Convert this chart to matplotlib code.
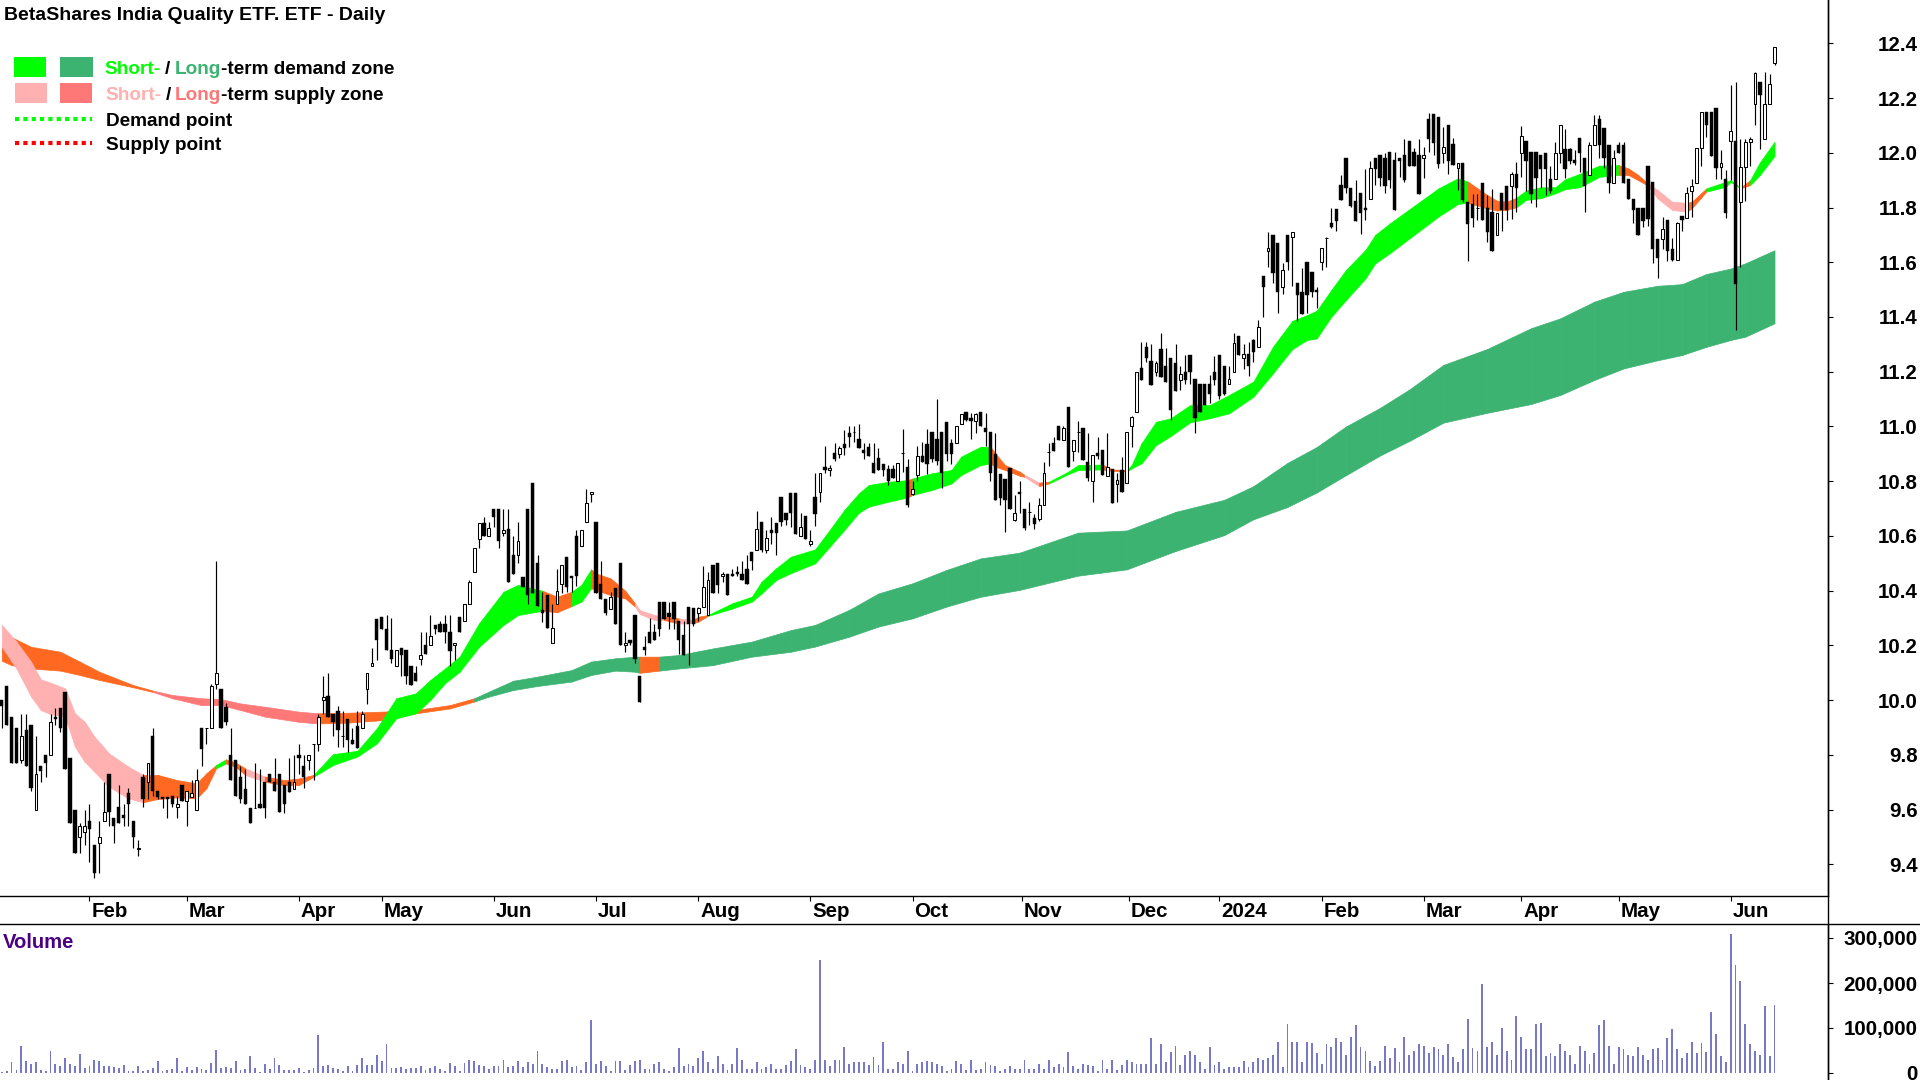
import numpy as np
import matplotlib
matplotlib.use("Agg")
import matplotlib.pyplot as plt
from matplotlib.lines import Line2D
from matplotlib.patches import Rectangle

plt.rcParams['font.family'] = ['Liberation Sans']

title = "BetaShares India Quality ETF. ETF - Daily"

# daily candles
opens = [
    10.00,10.05,9.94,9.90,9.78,9.89,9.91,9.60,9.76,9.80,
    9.80,9.94,9.97,10.03,9.79,9.60,9.50,9.52,9.56,9.47,
    9.48,9.56,9.73,9.57,9.61,9.58,9.66,9.56,9.455,9.72,
    9.70,9.87,9.67,9.645,9.645,9.65,9.61,9.69,9.63,9.645,
    9.60,9.90,9.90,9.90,10.06,10.04,9.976,9.80,9.78,9.72,
    9.675,9.605,9.605,9.62,9.70,9.73,9.70,9.73,9.69,9.70,
    9.675,9.80,9.76,9.78,9.84,9.84,10.00,10.015,9.95,9.96,
    9.87,9.93,9.855,9.905,9.90,10.04,10.125,10.295,10.305,10.26,
    10.185,10.125,10.19,10.185,10.125,10.10,10.15,10.20,10.20,10.275,
    10.28,10.28,10.25,10.20,10.305,10.29,10.35,10.47,10.59,10.646,
    10.60,10.70,10.70,10.61,10.625,10.53,10.53,10.45,10.70,10.795,
    10.50,10.33,10.384,10.21,10.35,10.423,10.524,10.455,10.60,10.563,
    10.65,10.755,10.65,10.424,10.37,10.332,10.41,10.50,10.20,10.22,
    10.31,10.09,10.195,10.25,10.25,10.36,10.36,10.32,10.36,10.29,
    10.238,10.34,10.335,10.32,10.34,10.31,10.495,10.50,10.454,10.46,
    10.46,10.47,10.46,10.48,10.54,10.55,10.65,10.55,10.62,10.646,
    10.744,10.685,10.756,10.756,10.60,10.673,10.57,10.744,10.76,10.853,
    10.84,10.904,10.90,10.935,10.975,10.98,10.953,10.914,10.924,10.865,
    10.884,10.863,10.843,10.843,10.80,10.904,10.853,10.753,10.823,10.893,
    10.935,10.98,10.953,10.98,11.015,10.94,10.94,11.01,11.054,11.03,
    11.02,11.054,10.993,10.98,10.90,10.825,10.807,10.847,10.66,10.76,
    10.70,10.686,10.664,10.662,10.713,10.905,10.94,11.0,10.95,11.07,
    10.91,10.98,10.993,10.87,10.80,10.904,10.914,10.82,10.843,10.79,
    10.84,10.795,11.0,11.054,11.212,11.29,11.24,11.20,11.282,11.22,
    11.252,11.233,11.17,11.20,11.26,11.172,11.154,11.154,11.154,11.20,
    11.26,11.22,11.154,11.20,11.33,11.25,11.263,11.316,11.29,11.55,
    11.642,11.70,11.672,11.508,11.70,11.691,11.523,11.493,11.602,11.563,
    11.50,11.602,11.69,11.742,11.795,11.882,11.98,11.87,11.824,11.852,
    11.80,11.83,11.98,11.991,11.98,12.002,11.974,11.98,11.992,12.043,
    12.004,11.992,11.98,12.122,12.14,12.13,12.0,12.10,12.032,11.943,
    11.962,11.82,11.812,11.80,11.891,11.80,11.785,11.70,11.852,11.88,
    11.88,11.923,12.0,12.043,12.002,12.002,11.992,12.0,11.903,11.903,
    12.0,12.013,12.014,11.974,12.053,11.98,11.92,12.03,12.122,12.09,
    12.03,11.89,12.03,12.03,11.904,11.83,11.80,11.80,11.951,11.892,
    11.685,11.685,11.754,11.65,11.61,11.769,11.76,11.861,11.89,12.018,
    12.15,12.15,12.162,11.949,11.904,12.043,12.043,11.821,11.949,12.04,
    12.18,12.26,12.052,12.18,12.329]
highs = [
    10.00,10.05,9.94,9.90,9.95,9.95,9.91,9.87,9.76,9.80,
    9.95,9.97,9.97,10.03,9.79,9.60,9.55,9.60,9.62,9.47,
    9.56,9.70,9.73,9.57,9.69,9.62,9.68,9.56,9.49,9.73,
    9.77,9.90,9.67,9.645,9.645,9.65,9.65,9.69,9.67,9.71,
    9.75,9.90,9.90,10.06,10.51,10.04,9.99,9.90,9.78,9.76,
    9.75,9.605,9.77,9.75,9.70,9.73,9.79,9.73,9.69,9.79,
    9.80,9.84,9.80,9.80,9.84,9.95,10.09,10.10,9.95,9.98,
    9.96,9.93,9.90,9.96,9.96,10.10,10.19,10.295,10.305,10.31,
    10.30,10.185,10.19,10.185,10.125,10.125,10.25,10.25,10.31,10.275,
    10.29,10.31,10.31,10.21,10.305,10.35,10.44,10.555,10.646,10.67,
    10.65,10.70,10.70,10.70,10.70,10.60,10.65,10.45,10.70,10.795,
    10.53,10.396,10.384,10.35,10.48,10.494,10.524,10.455,10.62,10.62,
    10.77,10.76,10.65,10.51,10.37,10.396,10.41,10.50,10.25,10.22,
    10.31,10.09,10.235,10.30,10.28,10.36,10.36,10.36,10.36,10.29,
    10.29,10.34,10.335,10.34,10.49,10.47,10.495,10.50,10.47,10.46,
    10.48,10.49,10.51,10.53,10.54,10.69,10.65,10.62,10.67,10.646,
    10.744,10.685,10.756,10.756,10.685,10.673,10.62,10.83,10.83,10.93,
    10.86,10.94,10.93,10.987,11.0,11.0,11.01,10.94,10.938,10.938,
    10.92,10.863,10.86,10.86,10.865,10.99,10.88,10.80,10.93,10.945,
    10.99,10.98,11.10,10.98,11.015,10.953,11.0,11.044,11.054,11.05,
    11.05,11.054,11.05,10.98,10.975,10.825,10.807,10.847,10.75,10.80,
    10.70,10.725,10.682,10.74,10.87,10.94,10.96,11.0,11.0,11.07,
    10.95,11.02,10.993,10.978,10.896,10.96,10.914,10.978,10.843,10.83,
    10.89,10.98,11.04,11.20,11.31,11.31,11.30,11.24,11.34,11.288,
    11.252,11.30,11.22,11.26,11.26,11.172,11.154,11.154,11.188,11.258,
    11.26,11.22,11.22,11.34,11.33,11.30,11.31,11.32,11.39,11.55,
    11.71,11.70,11.672,11.596,11.70,11.712,11.523,11.578,11.602,11.563,
    11.508,11.651,11.691,11.797,11.795,11.919,11.98,11.87,11.90,11.852,
    11.94,11.97,11.98,11.991,11.998,12.002,12.004,11.98,12.05,12.043,
    12.016,12.05,12.02,12.147,12.14,12.13,12.096,12.10,12.053,11.962,
    11.962,11.82,11.85,11.85,11.891,11.846,11.867,11.781,11.852,11.88,
    11.93,11.968,12.098,12.043,12.002,12.002,11.992,12.0,11.95,12.04,
    12.10,12.086,12.016,12.01,12.053,11.98,12.04,12.138,12.138,12.09,
    12.03,12.01,12.04,12.04,11.904,11.83,11.80,11.80,11.951,11.892,
    11.685,11.766,11.754,11.687,11.748,11.769,11.876,11.906,12.018,12.15,
    12.15,12.15,12.162,12.01,11.937,12.247,12.26,12.049,12.049,12.058,
    12.296,12.26,12.296,12.288,12.387]
lows = [
    9.90,9.91,9.77,9.77,9.77,9.76,9.67,9.60,9.70,9.72,
    9.80,9.91,9.885,9.75,9.55,9.44,9.44,9.47,9.41,9.35,
    9.37,9.56,9.54,9.48,9.55,9.54,9.54,9.46,9.43,9.61,
    9.64,9.65,9.64,9.605,9.57,9.61,9.57,9.63,9.54,9.645,
    9.60,9.76,9.84,9.90,10.04,9.90,9.91,9.71,9.65,9.625,
    9.62,9.55,9.605,9.605,9.57,9.70,9.67,9.59,9.586,9.665,
    9.675,9.73,9.68,9.745,9.71,9.815,9.95,9.94,9.87,9.83,
    9.83,9.81,9.84,9.825,9.90,9.985,10.125,10.147,10.26,10.185,
    10.135,10.125,10.09,10.06,10.055,10.07,10.13,10.17,10.20,10.24,
    10.25,10.21,10.125,10.147,10.25,10.29,10.35,10.47,10.555,10.60,
    10.60,10.634,10.555,10.60,10.43,10.46,10.50,10.415,10.35,10.39,
    10.344,10.284,10.265,10.21,10.35,10.39,10.396,10.396,10.417,10.563,
    10.65,10.725,10.39,10.37,10.31,10.332,10.28,10.20,10.177,10.20,
    10.135,9.995,10.165,10.21,10.22,10.235,10.295,10.26,10.26,10.17,
    10.165,10.13,10.27,10.29,10.34,10.31,10.39,10.39,10.43,10.385,
    10.455,10.455,10.44,10.425,10.475,10.55,10.54,10.536,10.57,10.53,
    10.636,10.64,10.634,10.607,10.60,10.59,10.565,10.636,10.725,10.83,
    10.82,10.875,10.886,10.896,10.924,10.945,10.92,10.88,10.892,10.83,
    10.84,10.82,10.786,10.81,10.80,10.835,10.705,10.75,10.80,10.87,
    10.826,10.87,10.86,10.776,10.875,10.863,10.94,11.01,11.02,10.953,
    10.975,11.003,10.93,10.80,10.73,10.713,10.616,10.70,10.656,10.685,
    10.62,10.64,10.624,10.656,10.713,10.855,10.91,10.95,10.95,10.853,
    10.875,10.908,10.877,10.80,10.725,10.88,10.823,10.82,10.72,10.725,
    10.76,10.795,10.926,11.054,11.17,11.237,11.15,11.184,11.18,11.164,
    11.023,11.13,11.133,11.155,11.155,10.975,11.054,11.078,11.085,11.15,
    11.10,11.115,11.154,11.20,11.26,11.21,11.184,11.237,11.29,11.40,
    11.584,11.525,11.416,11.484,11.572,11.513,11.387,11.41,11.413,11.474,
    11.432,11.572,11.584,11.724,11.715,11.828,11.854,11.803,11.752,11.703,
    11.755,11.83,11.882,11.88,11.852,11.87,11.791,11.913,11.895,11.95,
    11.95,11.85,11.907,12.004,11.992,11.946,11.962,11.923,11.956,11.864,
    11.82,11.606,11.73,11.754,11.754,11.675,11.642,11.70,11.716,11.755,
    11.757,11.785,11.913,11.862,11.815,11.803,11.87,11.846,11.854,11.903,
    11.962,11.907,11.96,11.955,11.93,11.785,11.92,12.03,11.98,11.943,
    11.854,11.89,11.998,11.89,11.83,11.744,11.70,11.73,11.732,11.596,
    11.543,11.65,11.605,11.605,11.61,11.715,11.76,11.766,11.89,11.953,
    12.059,11.99,11.906,11.906,11.76,11.90,11.352,11.584,11.823,11.953,
    12.10,12.014,12.052,12.18,12.32]
closes = [
    9.98,9.91,9.77,9.77,9.87,9.76,9.68,9.73,9.74,9.77,
    9.92,9.93,9.90,9.75,9.55,9.44,9.54,9.54,9.53,9.37,
    9.50,9.59,9.59,9.54,9.55,9.57,9.62,9.50,9.46,9.64,
    9.77,9.67,9.645,9.64,9.64,9.62,9.62,9.63,9.67,9.66,
    9.71,9.82,9.90,10.05,10.10,9.90,9.92,9.71,9.65,9.64,
    9.62,9.55,9.605,9.605,9.605,9.70,9.67,9.59,9.62,9.665,
    9.70,9.79,9.72,9.80,9.84,9.94,10.01,9.94,9.92,9.89,
    9.87,9.855,9.84,9.825,9.95,10.10,10.135,10.22,10.26,10.185,
    10.15,10.185,10.165,10.09,10.055,10.07,10.165,10.17,10.235,10.26,
    10.25,10.25,10.18,10.21,10.25,10.35,10.43,10.555,10.646,10.60,
    10.63,10.67,10.58,10.62,10.43,10.46,10.583,10.415,10.385,10.39,
    10.344,10.32,10.265,10.265,10.40,10.494,10.412,10.445,10.454,10.62,
    10.72,10.76,10.39,10.37,10.32,10.378,10.28,10.20,10.21,10.21,
    10.15,9.995,10.185,10.21,10.22,10.26,10.295,10.305,10.295,10.22,
    10.165,10.28,10.28,10.335,10.415,10.44,10.39,10.42,10.46,10.385,
    10.455,10.46,10.44,10.425,10.51,10.625,10.55,10.594,10.61,10.61,
    10.65,10.66,10.685,10.607,10.634,10.59,10.58,10.68,10.83,10.84,
    10.85,10.88,10.922,10.92,10.96,10.98,10.92,10.904,10.892,10.83,
    10.84,10.84,10.80,10.81,10.865,10.904,10.713,10.77,10.893,10.87,
    10.863,10.88,10.875,10.83,10.90,10.90,11.0,11.044,11.024,11.02,
    11.044,11.003,10.98,10.83,10.73,10.74,10.73,10.70,10.685,10.755,
    10.63,10.686,10.643,10.713,10.83,10.905,10.91,10.95,10.993,10.853,
    10.95,10.98,10.877,10.81,10.896,10.892,10.823,10.853,10.72,10.804,
    10.76,10.98,11.033,11.20,11.17,11.25,11.15,11.233,11.18,11.164,
    11.06,11.13,11.19,11.17,11.20,11.03,11.054,11.078,11.12,11.17,
    11.11,11.12,11.172,11.304,11.26,11.263,11.22,11.273,11.362,11.51,
    11.651,11.562,11.493,11.572,11.60,11.712,11.48,11.41,11.48,11.49,
    11.493,11.651,11.69,11.728,11.751,11.828,11.87,11.807,11.752,11.78,
    11.79,11.943,11.941,11.909,11.88,11.90,11.791,11.971,11.90,11.95,
    11.95,11.85,11.992,12.05,12.037,11.96,12.02,11.97,11.956,11.962,
    11.828,11.74,11.76,11.80,11.754,11.712,11.642,11.781,11.791,11.791,
    11.923,11.87,12.061,11.971,11.85,11.907,11.941,11.941,11.862,12.0,
    12.10,11.941,11.971,11.962,12.0,11.88,12.03,12.10,12.03,11.98,
    11.89,11.98,11.998,11.89,11.83,11.79,11.70,11.752,11.758,11.65,
    11.617,11.72,11.642,11.608,11.742,11.754,11.852,11.88,12.018,12.15,
    12.10,11.99,11.943,11.961,11.78,12.08,11.52,11.949,12.04,12.052,
    12.29,12.21,12.18,12.25,12.387]

# volume in thousands of units
volume_k = [
    2,4,24,6,61,26,21,24,7,4,48,20,16,33,20,16,42,11,16,28,26,15,15,13,11,17,4,4,15,4,7,11,26,4,7,9,33,4,13,7,13,10,7,22,52,
    11,13,11,26,7,9,37,11,2,20,9,33,18,7,6,6,11,2,6,11,85,15,18,11,9,4,16,4,18,33,18,18,41,26,65,11,11,13,9,11,11,16,7,11,15,
    9,4,22,15,4,22,28,26,18,16,9,16,16,28,13,16,26,
    13,24,21,50,21,13,8,8,26,30,
    13,15,6,24,117,21,26,15,4,26,
    26,6,17,26,28,10,10,19,24,10,
    4,13,55,15,19,15,33,50,24,10,
    37,21,6,21,55,30,8,10,24,10,
    13,19,8,10,17,26,53,17,13,8,
    28,252,30,15,28,28,57,21,24,24,
    24,17,35,17,70,10,10,24,19,50,
    4,21,24,26,24,19,15,4,10,26,
    19,6,28,6,10,24,17,15,4,10,
    15,10,10,30,10,10,19,10,30,13,
    19,13,46,15,8,19,17,15,4,28,
    10,28,6,17,28,24,19,21,21,77,
    19,64,24,46,61,17,39,48,41,24,
    8,57,17,24,8,13,13,13,26,13,
    24,33,28,33,41,68,13,108,70,68,
    24,68,66,44,19,64,57,77,68,39,
    79,106,57,48,26,15,26,59,33,55,
    24,81,41,50,64,59,44,57,53,
    41,64,36,24,53,119,55,50,197,57,
    68,41,101,48,30,126,81,53,53,108,
    112,37,44,37,64,48,41,21,61,48,
    21,44,106,117,61,21,57,53,41,37,
    57,41,28,53,55,28,77,97,53,33,
    44,68,44,66,46,135,86,37,24,308,
    241,204,108,64,50,39,150,37,152]

# short term zone: bar number, edges, and state until the next entry
# d = demand, s = supply, m = changing over
short_bar = [0,3,6,8,10,13,15,17,19,22,26,29,32,36,40,42,44,46,48,50,54,58,61,64,68,73,77,81,85,88,91,94,98,103,106,111,114,117,119,121,122,125,128,130,131,134,136,139,142,143,145,150,154,156,159,162,167,170,173,176,178,182,186,187,191,195,197,201,203,204,206,209,210,213,215,219,221,226,228,231,232,234,237,240,244,248,252,257,261,265,268,270,273,276,280,282,285,290,295,299,301,305,307,309,311,313,316,319,321,324,328,332,334,336,338,340,343,346,347,350,354,355,357,359,361,364]
short_top = [10.275,10.214,10.141,10.076,10.064,10.043,9.952,9.921,9.867,9.806,9.757,9.727,9.727,9.708,9.696,9.733,9.763,9.784,9.772,9.751,9.721,9.708,9.714,9.727,9.803,9.815,9.897,10.007,10.025,10.074,10.116,10.159,10.281,10.396,10.421,10.40,10.378,10.396,10.421,10.478,10.463,10.445,10.40,10.354,10.329,10.311,10.305,10.299,10.293,10.305,10.311,10.354,10.378,10.433,10.482,10.524,10.551,10.622,10.695,10.756,10.786,10.798,10.804,10.81,10.829,10.841,10.89,10.926,10.926,10.902,10.859,10.835,10.823,10.795,10.798,10.835,10.859,10.861,10.843,10.841,10.859,10.938,11.017,11.03,11.078,11.078,11.115,11.164,11.291,11.386,11.407,11.423,11.499,11.572,11.645,11.70,11.742,11.806,11.87,11.907,11.895,11.846,11.825,11.821,11.836,11.862,11.874,11.874,11.903,11.923,11.953,11.955,11.943,11.919,11.888,11.864,11.821,11.817,11.821,11.87,11.894,11.90,11.873,11.90,11.965,12.04]
short_bot = [10.195,10.116,10.013,9.964,9.949,9.94,9.83,9.775,9.739,9.684,9.641,9.627,9.639,9.645,9.641,9.678,9.751,9.769,9.757,9.727,9.702,9.69,9.69,9.72,9.763,9.794,9.842,9.934,9.952,10.001,10.062,10.104,10.195,10.275,10.311,10.327,10.321,10.344,10.36,10.409,10.402,10.384,10.372,10.342,10.315,10.293,10.293,10.28,10.281,10.287,10.308,10.335,10.36,10.39,10.439,10.464,10.50,10.561,10.622,10.685,10.707,10.725,10.741,10.75,10.768,10.792,10.823,10.859,10.865,10.853,10.841,10.82,10.816,10.782,10.792,10.826,10.841,10.843,10.838,10.835,10.847,10.865,10.932,10.965,11.015,11.03,11.048,11.109,11.194,11.283,11.316,11.322,11.401,11.462,11.541,11.596,11.633,11.70,11.767,11.813,11.818,11.797,11.789,11.791,11.801,11.828,11.834,11.852,11.867,11.874,11.912,11.919,11.919,11.90,11.88,11.833,11.791,11.785,11.797,11.858,11.876,11.894,11.87,11.882,11.919,11.988]
short_state = ('s'*11 + 'm'*5 + 'd' + 'm'*2 + 's' + 'm'*3 + 'd'*12 + 'm'*2 + 'd'*2 + 'm'*4 + 's'*3 + 'm' + 's'
               + 'm'*2 + 'd'*12 + 'm' + 'd'*5 + 'm'*4 + 's' + 'm' + 'd'*3 + 'm'*2 + 'd'*21 + 'm'*4 + 'd'*7
               + 'm'*3 + 's'*3 + 'm'*2 + 'd'*3 + 'm' + 'd'*3)

long_bar = [0,2,6,12,16,20,27,31,35,41,45,49,54,61,65,71,78,85,92,97,100,105,110,117,121,126,130,131,135,139,146,154,162,167,174,180,187,194,201,209,221,231,241,251,257,264,270,276,283,289,296,305,314,320,327,333,340,345,350,355,358,364]
long_top = [10.195,10.23,10.195,10.177,10.141,10.104,10.055,10.035,10.019,10.007,10.004,9.988,9.976,9.958,9.952,9.954,9.958,9.964,9.982,10.007,10.031,10.071,10.086,10.11,10.141,10.153,10.159,10.159,10.159,10.165,10.189,10.214,10.256,10.275,10.33,10.39,10.427,10.476,10.518,10.539,10.612,10.62,10.688,10.732,10.782,10.867,10.925,11.0,11.068,11.135,11.225,11.283,11.359,11.395,11.456,11.492,11.514,11.52,11.557,11.577,11.596,11.644]
long_bot = [10.144,10.128,10.116,10.108,10.092,10.074,10.047,10.03,10.007,9.982,9.982,9.964,9.94,9.921,9.915,9.918,9.927,9.952,9.97,9.995,10.013,10.037,10.052,10.068,10.092,10.108,10.104,10.10,10.108,10.116,10.128,10.159,10.177,10.196,10.232,10.269,10.299,10.342,10.378,10.403,10.455,10.478,10.545,10.603,10.661,10.706,10.759,10.822,10.894,10.947,11.014,11.05,11.082,11.115,11.17,11.212,11.242,11.261,11.291,11.316,11.328,11.377]
long_state = 'm'*7 + 's'*7 + 'm'*5 + 'd'*8 + 'm' + 'd'*34

month_bar = [18,38,61,78,101,122,143,166,187,209.4,231.4,250,271,292,312,332,355]
month_label = ["Feb","Mar","Apr","May","Jun","Jul","Aug","Sep","Oct","Nov","Dec","2024","Feb","Mar","Apr","May","Jun"]
price_ticks = [9.4,9.6,9.8,10.0,10.2,10.4,10.6,10.8,11.0,11.2,11.4,11.6,11.8,12.0,12.2,12.4]
volume_ticks = [0,100000,200000,300000]

short_colors = {'d': '#00FF00', 's': '#FFB0B0', 'm': '#FF6820'}
long_colors = {'d': '#3CB371', 's': '#FF7878', 'm': '#FF6820'}
axis_size = 14.8


def fx(px):
    return px / 1920


def fy(px):
    return 1 - px / 1080


def draw_zone(ax, bars, top, bot, state, colors):
    for i in range(len(bars) - 1):
        c = colors[state[i]]
        ax.fill_between(bars[i:i+2], top[i:i+2], bot[i:i+2], color=c, lw=0.5, zorder=2)


fig = plt.figure(figsize=(19.2, 10.8), dpi=100)
ax = fig.add_axes([0, fy(896), fx(1828), 896 / 1080])
vol = fig.add_axes([0, 0, fx(1828), 156 / 1080])

xlim = (-1.83 / 4.87, (1828 - 1.83) / 4.87)
x = np.arange(len(closes))
o, h, l, c = map(np.array, (opens, highs, lows, closes))

draw_zone(ax, long_bar, long_top, long_bot, long_state, long_colors)
draw_zone(ax, short_bar, short_top, short_bot, short_state, short_colors)

ax.vlines(x, l, h, color='black', lw=0.85, zorder=3)
up = c >= o
ax.bar(x[up], (c - o)[up], bottom=o[up], width=0.58, facecolor='white', edgecolor='black', lw=0.75, zorder=4)
ax.bar(x[~up], (o - c)[~up], bottom=c[~up], width=0.68, facecolor='black', edgecolor='black', lw=0.3, zorder=4)

ax.set_xlim(xlim)
ax.set_ylim(12.4 - (896 - 43.3) / 273.7, 12.4 + 43.3 / 273.7)
ax.spines['top'].set_visible(False)
ax.spines['left'].set_visible(False)
ax.spines['right'].set_linewidth(1.0)
ax.spines['bottom'].set_linewidth(1.0)
ax.yaxis.tick_right()
ax.set_yticks(price_ticks)
ax.set_yticklabels(["%.1f" % t for t in price_ticks], fontweight='bold', fontsize=axis_size, ha='right')
ax.tick_params(axis='y', length=3.6, width=0.8, pad=61)
ax.set_xticks(month_bar)
ax.set_xticklabels([])
ax.tick_params(axis='x', length=3.6, width=0.8)
for b, name in zip(month_bar, month_label):
    ax.annotate(name, xy=(b, 0), xycoords=('data', 'axes fraction'), xytext=(1.5, -11),
                textcoords='offset points', ha='left', va='center',
                fontweight='bold', fontsize=axis_size, annotation_clip=False)

vol.bar(x, np.array(volume_k) * 1000, width=0.38, color='#7878C8')
vol.set_xlim(xlim)
vol.set_ylim(-7 * 100000 / 45, (1073 - 924) * 100000 / 45)
vol.set_xticks([])
vol.spines['top'].set_visible(False)
vol.spines['left'].set_visible(False)
vol.spines['bottom'].set_visible(False)
vol.spines['right'].set_linewidth(1.0)
vol.yaxis.tick_right()
vol.set_yticks(volume_ticks)
vol.set_yticklabels(["{:,}".format(t) for t in volume_ticks], fontweight='bold', fontsize=axis_size, ha='right')
vol.tick_params(axis='y', length=3.6, width=0.8, pad=61)

# frame lines outside the two axes
fig.add_artist(Line2D([0, 1], [fy(924), fy(924)], color='black', lw=1.0))
fig.add_artist(Line2D([fx(1828), fx(1828)], [0, 1], color='black', lw=1.0))

fig.text(fx(4), fy(16), title, fontsize=14, fontweight='bold', va='center')
fig.text(fx(3), fy(943), "Volume", fontsize=14.6, fontweight='bold', color='#4B0082', va='center')

# legend
for x0, x1, y0, col in [(14, 46, 57, '#00FF00'), (60, 93, 57, '#3CB371'),
                        (15, 47, 83, '#FFB0B0'), (60, 92, 83, '#FF7878')]:
    fig.add_artist(Rectangle((fx(x0), fy(y0 + 20)), fx(x1 - x0), 20 / 1080, transform=fig.transFigure,
                             facecolor=col, edgecolor='none'))
fig.add_artist(Line2D([fx(15), fx(92)], [fy(119), fy(119)], color='#00FF00', lw=3, ls=(0, (1, 1))))
fig.add_artist(Line2D([fx(15), fx(92)], [fy(143), fy(143)], color='#FF0000', lw=3, ls=(0, (1, 1))))

for px, py, txt, col in [(104, 70, "Short-", '#00FF00'), (165, 70, "/", 'black'),
                         (175, 70, "Long", '#3CB371'), (221, 70, "-term demand zone", 'black'),
                         (105, 95, "Short-", '#FFB0B0'), (166, 95, "/", 'black'),
                         (175, 95, "Long", '#FF7878'), (221, 95, "-term supply zone", 'black'),
                         (106, 121, "Demand point", 'black'), (106, 145, "Supply point", 'black')]:
    fig.text(fx(px), fy(py), txt, color=col, fontsize=13.7, fontweight='bold', va='center')

fig.savefig('out.png', dpi=100)
